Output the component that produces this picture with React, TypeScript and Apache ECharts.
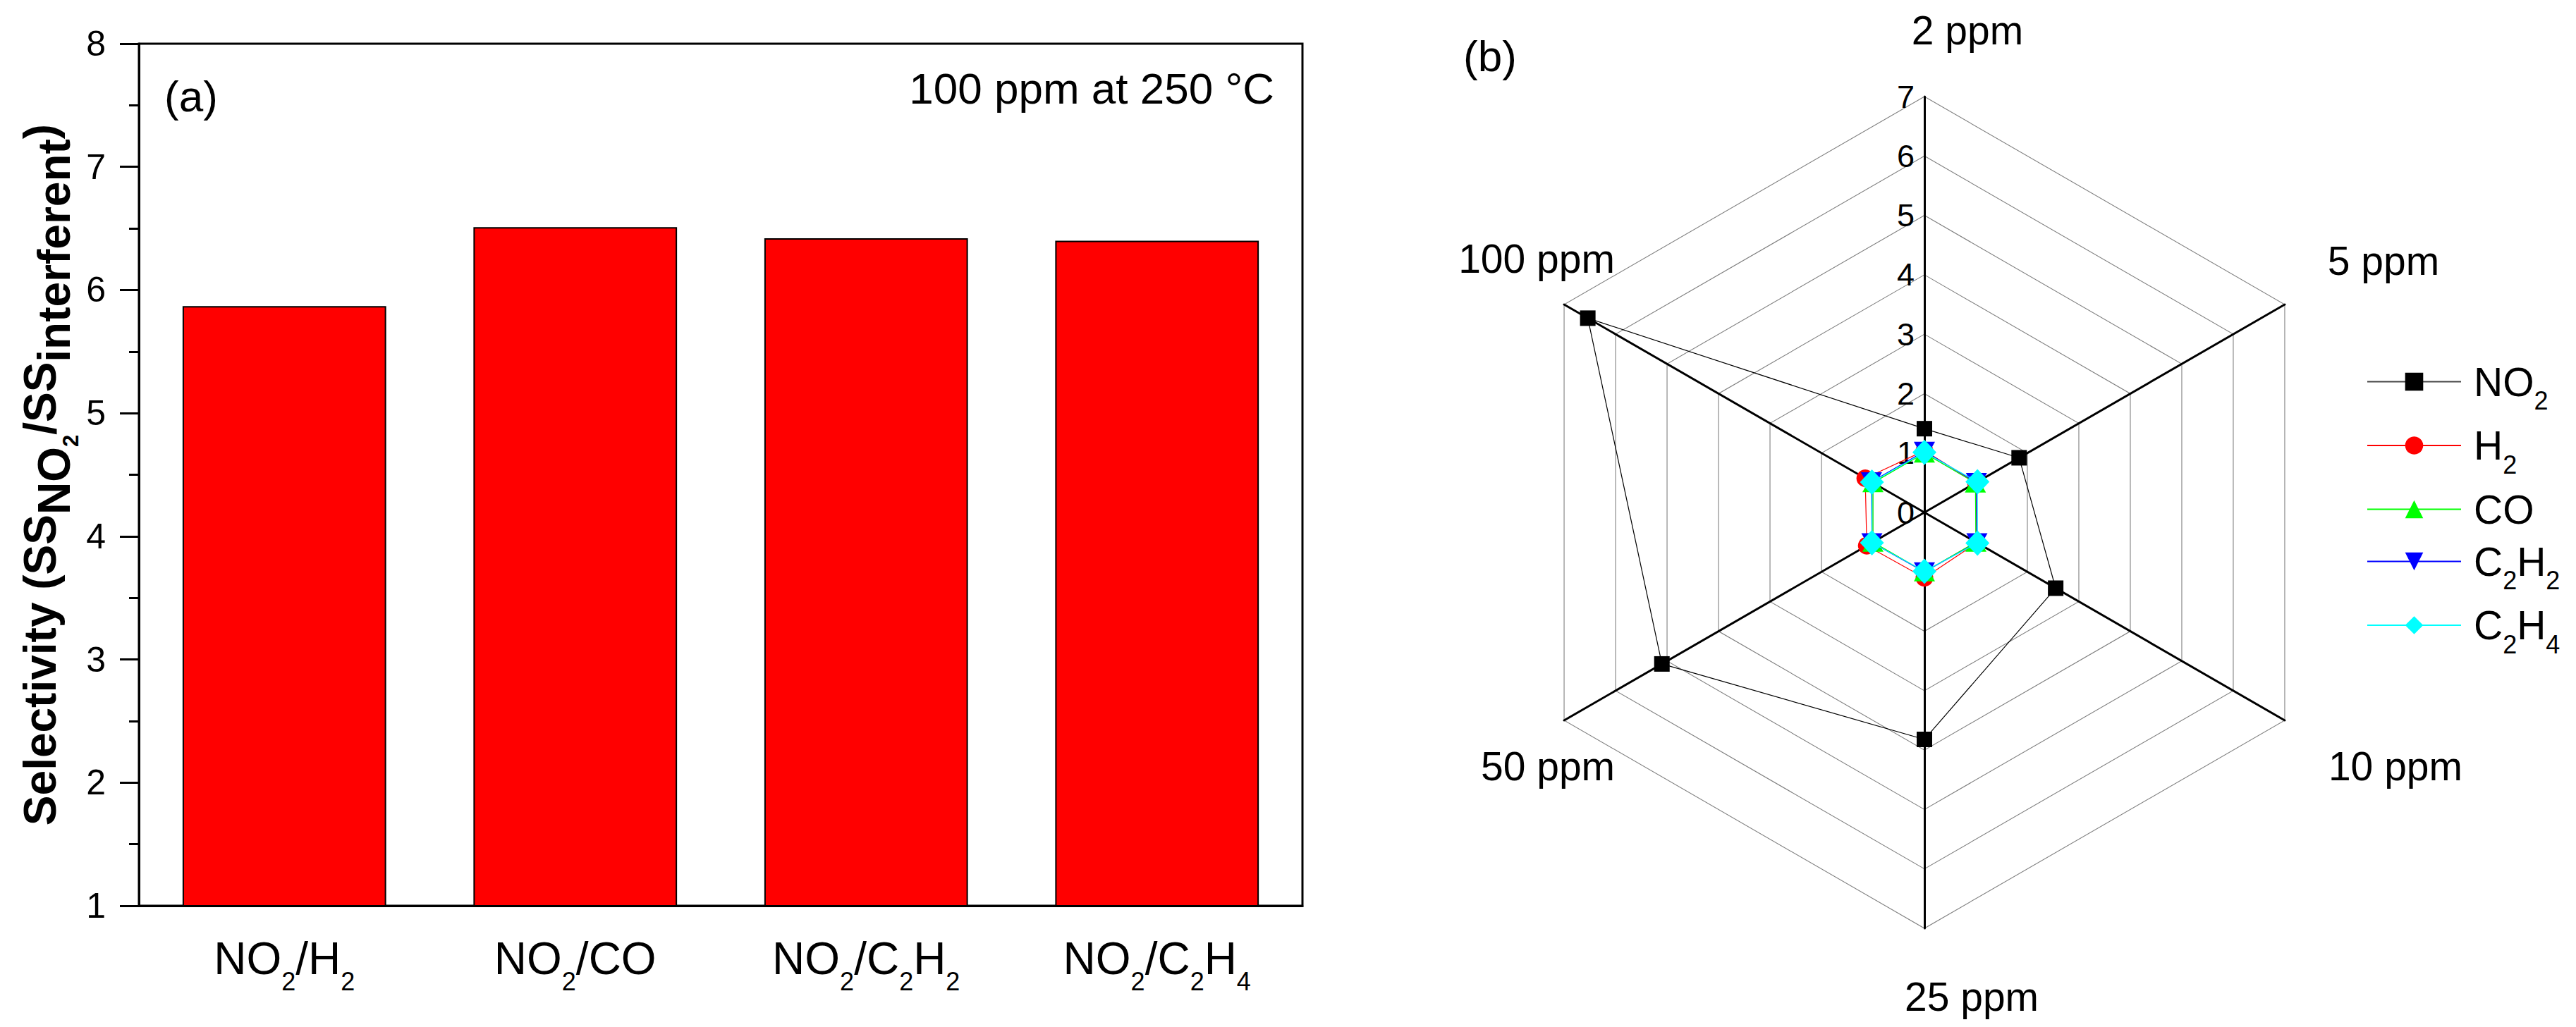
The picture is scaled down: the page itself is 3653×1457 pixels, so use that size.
import { useEffect, useRef } from 'react';
import * as echarts from 'echarts';

// ---------- data ----------
const barCategories = ['NO2/H2', 'NO2/CO', 'NO2/C2H2', 'NO2/C2H4'];
const barValues = [5.87, 6.51, 6.42, 6.4];
const barAxisMin = 1;
const barAxisMax = 8;

const radarIndicators = ['2 ppm', '5 ppm', '10 ppm', '25 ppm', '50 ppm', '100 ppm'];
const radarMax = 7;
const gasNames = ['NO2', 'H2', 'CO', 'C2H2', 'C2H4'];
const no2Values = [1.41, 1.84, 2.55, 3.82, 5.1, 6.54];
const h2Values = [1.04, 1.0, 1.02, 1.1, 1.12, 1.15];
const coValues = [1.0, 0.99, 1.0, 1.0, 1.0, 1.0];
const c2h2Values = [1.03, 1.01, 1.02, 1.0, 1.02, 1.03];
const c2h4Values = [1.01, 1.03, 1.03, 0.99, 1.02, 1.02];

// ---------- styles ----------
const FONT = 'Liberation Sans, Arial, sans-serif';
const gasColors = ['#000000', '#ff0000', '#00ff00', '#0000ff', '#00ffff'];
const downTri = 'path://M0,0L10,0L5,9Z';
const gasSymbols = ['rect', 'circle', 'triangle', downTri, 'diamond'];
const gasSymbolSizes: any[] = [22, 25, [30, 27], [30, 27], [34, 36]];
// ECharts lays radar indicators counter-clockwise; reference goes clockwise
const radarOrder = [0, 5, 4, 3, 2, 1];
// name label offsets (text centre relative to axis end), per indicator (natural order)
const nameOffsets = [
  [61, -94],
  [140, -62],
  [157, 65],
  [67, 97],
  [-23, 65],
  [-39, -65],
];

function chem(s: string, m = 'm', sub = 's') {
  return s.replace(/([^0-9]+)|([0-9]+)/g, (_x: string, a: string, d: string) =>
    a ? `{${m}|${a}}` : `{${sub}|${d}}`
  );
}

const gasValues = [no2Values, h2Values, coValues, c2h2Values, c2h4Values];

function buildOption(): any {
  const legendDummies = gasNames.map((g, i) => ({
    type: 'line',
    name: g,
    xAxisIndex: 0,
    yAxisIndex: 0,
    data: [],
    symbol: gasSymbols[i],
    symbolSize: gasSymbolSizes[i],
    itemStyle: { color: gasColors[i] },
    lineStyle: { color: i === 0 ? '#444' : gasColors[i], width: 1.3 },
  }));

  const radarSeries = gasNames.map((g, i) => ({
    type: 'radar',
    name: g,
    radarIndex: 0,
    symbol: gasSymbols[i],
    symbolSize: gasSymbolSizes[i],
    itemStyle: { color: gasColors[i] },
    lineStyle: { color: gasColors[i], width: 1.2 },
    data: [{ name: g, value: radarOrder.map((k) => gasValues[i][k]) }],
    z: 3 + i,
  }));

  const indicators = radarOrder.map((k) => {
    const [dx, dy] = nameOffsets[k];
    const label = radarIndicators[k];
    const ind: any = {
      name: dy < 0 ? `${label}\n\u00a0` : `\u00a0\n${label}`,
      min: 0,
      max: radarMax,
      nameGap: 0,
      nameMoveOverlap: false,
      nameTextStyle: {
        align: 'center',
        verticalAlign: 'middle',
        lineHeight: 2 * Math.abs(dy),
        padding: [0, Math.max(0, -2 * dx), 0, Math.max(0, 2 * dx)],
      },
    };
    if (k === 0) {
      ind.axisLabel = { show: true, fontSize: 45, color: '#000', fontFamily: FONT, margin: 14 };
    }
    return ind;
  });

  const catRich = {
    m: { fontSize: 64, fontFamily: FONT, color: '#000', lineHeight: 70 },
    s: { fontSize: 36, fontFamily: FONT, color: '#000', lineHeight: 70, height: 5, verticalAlign: 'bottom' },
  };
  const titleRich = {
    m: { fontSize: 64, fontWeight: 'bold', fontFamily: FONT, color: '#000', lineHeight: 100 },
    d: { fontSize: 64, fontWeight: 'bold', fontFamily: FONT, color: '#000', lineHeight: 100, height: 60, verticalAlign: 'bottom' },
    dd: { fontSize: 31, fontWeight: 'bold', fontFamily: FONT, color: '#000', lineHeight: 100, height: 13, verticalAlign: 'bottom' },
  };
  const legendRich = {
    m: { fontSize: 57, fontFamily: FONT, color: '#000', lineHeight: 60 },
    s: { fontSize: 36, fontFamily: FONT, color: '#000', lineHeight: 60, height: 6, verticalAlign: 'bottom' },
  };

  return {
    animation: false,
    backgroundColor: '#ffffff',
    textStyle: { fontFamily: FONT },
    grid: {
      left: 197,
      top: 62,
      width: 1650,
      height: 1223,
      show: true,
      borderColor: '#000',
      borderWidth: 3,
      backgroundColor: 'transparent',
    },
    xAxis: [
      {
        type: 'category',
        data: barCategories,
        position: 'bottom',
        axisLine: { lineStyle: { color: '#000', width: 3 } },
        axisTick: { alignWithLabel: true, length: 25, interval: 0, lineStyle: { color: '#000', width: 3 } },
        axisLabel: {
          interval: 0,
          margin: 40,
          formatter: (v: string) => chem(v),
          rich: catRich,
        },
        splitLine: { show: false },
      },
      {
        type: 'category',
        data: barCategories,
        position: 'bottom',
        axisLine: { show: false },
        axisTick: { alignWithLabel: false, length: 14, interval: 0, lineStyle: { color: '#000', width: 3 } },
        axisLabel: { show: false },
        splitLine: { show: false },
      },
    ],
    yAxis: {
      type: 'value',
      min: barAxisMin,
      max: barAxisMax,
      interval: 1,
      name: '{m|Selectivity (SS}{d|NO}{dd|2}{m|/SS}{d|interferent}{m|)}',
      nameLocation: 'middle',
      nameRotate: 90,
      nameGap: 90,
      nameMoveOverlap: false,
      nameTextStyle: { rich: titleRich },
      axisLine: { show: true, lineStyle: { color: '#000', width: 3 } },
      axisTick: { show: true, length: 27, lineStyle: { color: '#000', width: 3 } },
      minorTick: { show: true, splitNumber: 2, length: 14, lineStyle: { color: '#000', width: 3 } },
      axisLabel: { fontSize: 50, color: '#000', fontFamily: FONT, margin: 47 },
      splitLine: { show: false },
      minorSplitLine: { show: false },
    },
    radar: {
      center: [2729, 727],
      radius: 590,
      startAngle: 90,
      shape: 'polygon',
      splitNumber: 7,
      axisNameGap: 0,
      axisName: { show: true, color: '#000', fontSize: 57, fontFamily: FONT },
      axisLine: { lineStyle: { color: '#000', width: 3 } },
      axisTick: { show: false },
      axisLabel: { show: false },
      splitLine: { lineStyle: { color: '#808080', width: 1.1 } },
      splitArea: { show: false },
      indicator: indicators,
    },
    legend: {
      orient: 'vertical',
      left: 3356,
      top: 513,
      padding: 0,
      itemWidth: 133,
      itemHeight: 32,
      itemGap: 17,
      selectedMode: false,
      data: gasNames,
      formatter: (n: string) => chem(n),
      textStyle: { rich: legendRich, padding: [0, 0, 0, 13] },
    },
    graphic: [
      {
        type: 'text',
        x: 233,
        y: 136,
        style: { text: '(a)', fontSize: 62, fontFamily: FONT, fill: '#000', align: 'left', verticalAlign: 'middle' },
      },
      {
        type: 'text',
        x: 1807,
        y: 125,
        style: { text: '100 ppm at 250 °C', fontSize: 62, fontFamily: FONT, fill: '#000', align: 'right', verticalAlign: 'middle' },
      },
      {
        type: 'text',
        x: 2075,
        y: 79,
        style: { text: '(b)', fontSize: 62, fontFamily: FONT, fill: '#000', align: 'left', verticalAlign: 'middle' },
      },
    ],
    series: [
      ...legendDummies,
      {
        type: 'bar',
        name: 'Selectivity',
        xAxisIndex: 0,
        yAxisIndex: 0,
        data: barValues,
        barWidth: '70%',
        clip: true,
        itemStyle: { color: '#ff0000', borderColor: '#000', borderWidth: 2 },
      },
      ...radarSeries,
    ],
  };
}

export default function App() {
  const ref = useRef<HTMLDivElement>(null);
  useEffect(() => {
    const chart = echarts.init(ref.current!, null, { renderer: 'svg' });
    chart.setOption(buildOption());
    return () => chart.dispose();
  }, []);
  return (
    <div
      ref={ref}
      style={{ position: 'fixed', left: 0, top: 0, width: 3653, height: 1457, background: '#fff' }}
    />
  );
}
